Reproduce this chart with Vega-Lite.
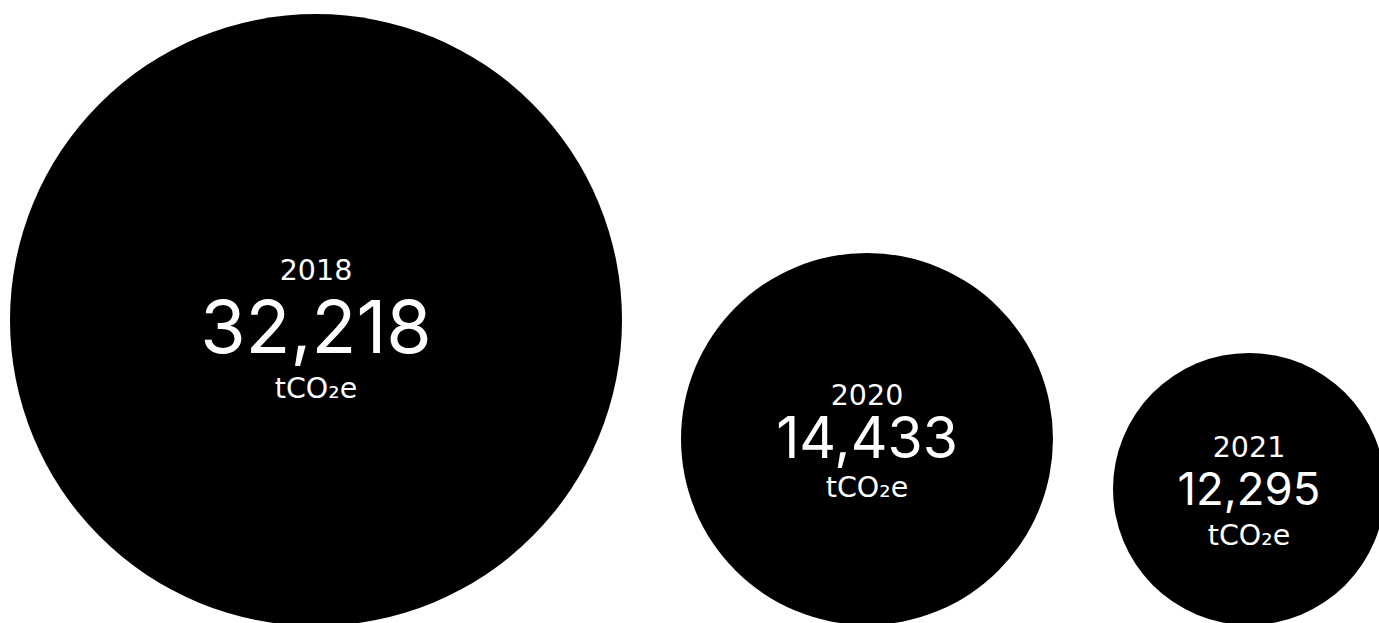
{
  "$schema": "https://vega.github.io/schema/vega-lite/v6.json",
  "width": 1379,
  "height": 623,
  "padding": 0,
  "autosize": "none",
  "background": "white",
  "config": {"view": {"stroke": null}},
  "data": {"values": [
    {"year": 2018, "value": 32218},
    {"year": 2020, "value": 14433},
    {"year": 2021, "value": 12295}
  ]},
  "encoding": {
    "x": {"field": "year", "type": "quantitative", "axis": null,
          "scale": {"domain": [2018, 2020, 2021], "range": [316, 867, 1249], "zero": false, "nice": false}}
  },
  "layer": [
    {
      "mark": {"type": "point", "shape": "circle", "filled": true, "opacity": 1, "color": "black", "strokeWidth": 0},
      "encoding": {
        "y": {"field": "year", "type": "quantitative", "axis": null,
              "scale": {"domain": [2018, 2020, 2021], "range": [320, 439, 489], "zero": false, "nice": false}},
        "size": {"field": "value", "type": "quantitative", "legend": null,
                 "scale": {"domain": [12295, 14433, 32218], "range": [73984, 138384, 374544], "zero": false, "nice": false}}
      }
    },
    {
      "mark": {"type": "text", "color": "white", "font": "DejaVu Sans", "fontSize": 28.5, "baseline": "alphabetic", "align": "center"},
      "encoding": {
        "y": {"field": "year", "type": "quantitative", "axis": null,
              "scale": {"domain": [2018, 2020, 2021], "range": [280, 405, 457], "zero": false, "nice": false}},
        "text": {"field": "year", "type": "nominal"}
      }
    },
    {
      "mark": {"type": "text", "color": "white", "font": "Inter", "baseline": "alphabetic", "align": "center"},
      "encoding": {
        "y": {"field": "year", "type": "quantitative", "axis": null,
              "scale": {"domain": [2018, 2020, 2021], "range": [353, 458, 505], "zero": false, "nice": false}},
        "text": {"field": "value", "type": "quantitative", "format": ","},
        "size": {"field": "value", "type": "quantitative", "legend": null,
                 "scale": {"domain": [12295, 14433, 32218], "range": [45.5, 57, 73.5], "zero": false, "nice": false}}
      }
    },
    {
      "mark": {"type": "text", "color": "white", "font": "DejaVu Sans", "fontSize": 28.5, "baseline": "alphabetic", "align": "center"},
      "encoding": {
        "y": {"field": "year", "type": "quantitative", "axis": null,
              "scale": {"domain": [2018, 2020, 2021], "range": [398, 497, 545], "zero": false, "nice": false}},
        "text": {"value": "tCO₂e"}
      }
    }
  ],
  "resolve": {"scale": {"y": "independent", "size": "independent"}}
}
